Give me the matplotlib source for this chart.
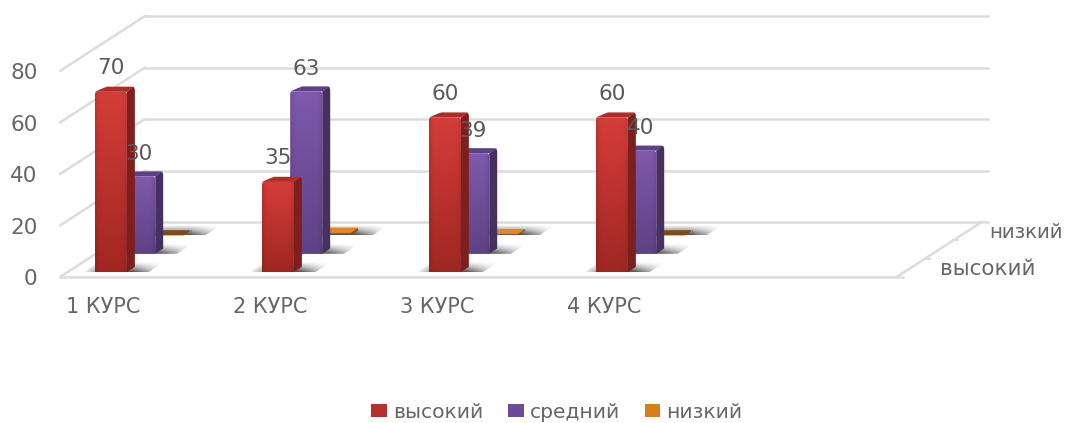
import numpy as np
import matplotlib
matplotlib.use("Agg")
import matplotlib.pyplot as plt
from matplotlib.patches import Polygon, Patch
from matplotlib.colors import to_rgb

categories = ["1 КУРС", "2 КУРС", "3 КУРС", "4 КУРС"]
series_names = ["высокий", "средний", "низкий"]
vysokiy = [70, 35, 60, 60]
sredniy = [30, 63, 39, 40]
nizkiy = [0, 1, 0.5, 0]
y_ticks = [0, 20, 40, 60, 80]

FONT = "DejaVu Sans"
GRID = "#dcdcdc"
TXT = "#666666"
W, H = 1067, 423
PX_X, PX_V = 167.0, 2.575
X0, Y0 = 60.0, 277.0
DX, DY = 28.33 / PX_X, 18.33 / PX_V
N_SLOTS = 5.01
DEPTH = 3.0

fig = plt.figure(figsize=(W / 100, H / 100), dpi=100)
ax = fig.add_axes([0, 0, 1, 1])
ax.set_xlim(-X0 / PX_X, (W - X0) / PX_X)
ax.set_ylim((Y0 - H) / PX_V, Y0 / PX_V)
ax.axis("off")


def P(x, v, d):
    return (x + d * DX, v + d * DY)


def grad_poly(pts, top, bottom, z, edge=0.0):
    pts = np.array(pts)
    poly = Polygon(pts, closed=True, transform=ax.transData, fc="none", ec="none")
    ax.add_patch(poly)
    ny, nx = 60, 30
    t = np.linspace(0, 1, ny)[:, None, None]
    img = (1 - t) * np.array(to_rgb(top))[None, None, :] + t * np.array(to_rgb(bottom))[None, None, :]
    img = np.repeat(img, nx, axis=1)
    if edge:
        u = np.linspace(-1, 1, nx)
        img = img * (1 - edge * np.abs(u) ** 6)[None, :, None]
    im = ax.imshow(img, extent=(pts[:, 0].min(), pts[:, 0].max(), pts[:, 1].min(), pts[:, 1].max()),
                   origin="upper", aspect="auto", zorder=z, interpolation="bilinear")
    im.set_clip_path(poly)


def shadow(x, w, d0, z):
    a = d0
    b = d0 + 0.55
    xl, xr = x - 0.1, x + w + 0.1
    pts = np.array([P(xl, 0, a), P(xr, 0, a), P(xr, 0, b), P(xl, 0, b)])
    poly = Polygon(pts, closed=True, transform=ax.transData, fc="none", ec="none")
    ax.add_patch(poly)
    nx, ny = 120, 30
    u = np.linspace(0, 1, nx)[None, :]
    t = np.linspace(0, 1, ny)[:, None]
    al = 0.9 * np.clip(np.minimum(u / 0.3, (1 - u) / 0.4), 0, 1) * t ** 1.3
    img = np.zeros((ny, nx, 4))
    img[..., 3] = al
    img[..., :3] = 0.22
    ys = pts[:, 1]
    im = ax.imshow(img, extent=(pts[:, 0].min(), pts[:, 0].max(), ys.min(), ys.max()), origin="upper",
                   aspect="auto", zorder=z, interpolation="bilinear")
    im.set_clip_path(poly)


# walls and floor grid
xr = N_SLOTS
for v in y_ticks:
    a, b = P(0, v, 0), P(0, v, DEPTH)
    ax.plot([a[0], b[0]], [a[1], b[1]], color=GRID, lw=1.8, zorder=1, solid_capstyle="round")
    c = P(xr + 0.035, v, DEPTH)
    ax.plot([b[0], c[0]], [b[1], c[1]], color=GRID, lw=1.8, zorder=1)
    ax.annotate(str(v), (-0.135, v), xytext=(0, -1.6), textcoords="offset points", ha="right", va="center",
                fontsize=15.5, color=TXT, family=FONT, zorder=20)
a, b = P(0, 0, 0), P(xr + 0.035, 0, 0)
ax.plot([a[0], b[0]], [a[1], b[1]], color=GRID, lw=1.8, zorder=1)
b, c = P(xr, 0, 0), P(xr, 0, DEPTH)
ax.plot([b[0], c[0]], [b[1], c[1]], color=GRID, lw=1.8, zorder=1)
for d in (1, 2):
    p = P(xr, 0, d)
    ax.plot([p[0], p[0] + 0.03], [p[1], p[1]], color=GRID, lw=1.4, zorder=1)

# bars
BAR_L, BAR_W = 0.163, 0.192
D0, D1 = 0.27, 0.55
styles = [
    dict(top="#d53d39", bottom="#a02723", side="#7d201d", cap="#b02c29", leg="#b5302d"),
    dict(top="#7f59ad", bottom="#5f4285", side="#45305f", cap="#5d4187", leg="#6b4a98"),
    dict(top="#f08c1c", bottom="#c96f12", side="#8a4d0c", cap="#e8861a", leg="#d57f1c"),
]
rows = [vysokiy, sredniy, nizkiy]
z = 3
for r in (2, 1, 0):
    vals = rows[r]
    st = styles[r]
    for i, v in enumerate(vals):
        x0 = i + BAR_L
        x1 = x0 + BAR_W
        d0, d1 = r + D0, r + D1
        shadow(x0 + 0.03, BAR_W, d0, z)
        z += 1
        cap = st["cap"] if v > 0 else "#7f4a10"
        side = Polygon([P(x1, 0, d0), P(x1, 0, d1), P(x1, v - 1.2, d1), P(x1 - 0.006, v, d1), P(x1, v, d0)],
                       fc=st["side"], ec="none", zorder=z)
        ax.add_patch(side)
        z += 1
        top = Polygon([P(x0, v, d0), P(x1, v, d0), P(x1, v, d1 - 0.05), P(x1 - 0.012, v, d1),
                       P(x0 + 0.025, v, d1), P(x0 + 0.012, v, d1 - 0.12)],
                      fc=cap, ec="none", zorder=z)
        ax.add_patch(top)
        z += 1
        if v > 2:
            grad_poly([P(x0, 0, d0), P(x1, 0, d0), P(x1, v - 0.6, d0), P(x1 - 0.01, v, d0),
                       P(x0 + 0.01, v, d0), P(x0, v - 0.6, d0)],
                      st["top"], st["bottom"], z, edge=0.12)
            z += 1

for r in (1, 0):
    for i, v in enumerate(rows[r]):
        p = P(i + BAR_L + BAR_W / 2, v, r + D0)
        ax.annotate(str(v), p, xytext=(0, 17 if r == 0 else 16), textcoords="offset points", ha="center", va="center",
                    fontsize=15.5, color="#595959", family=FONT, zorder=500)

# category labels
for i, c in enumerate(categories):
    ax.text(i + 0.26, -11.7, c, ha="center", va="center", fontsize=15, color=TXT, family=FONT, zorder=20)

# depth labels
for name, d, off, fs in ((series_names[0], 0.43, 0.186, 15.5), (series_names[2], 2.45, 0.14, 14.3)):
    p = P(xr, 0, d)
    ax.text(p[0] + off, p[1], name, ha="left", va="center", fontsize=fs, color=TXT, family=FONT, zorder=20)

# legend
handles = [Patch(fc=s["leg"], ec="none") for s in styles]
ax.legend(handles, series_names, ncol=3, loc="center", bbox_to_anchor=(557 / W, 1 - 412 / H), frameon=False,
          prop={"family": FONT, "size": 14.6}, labelcolor=TXT, handlelength=0.75, handleheight=0.62,
          handletextpad=0.3, columnspacing=1.25, borderpad=0, borderaxespad=0)

fig.savefig("out.png", dpi=100, facecolor="white")
